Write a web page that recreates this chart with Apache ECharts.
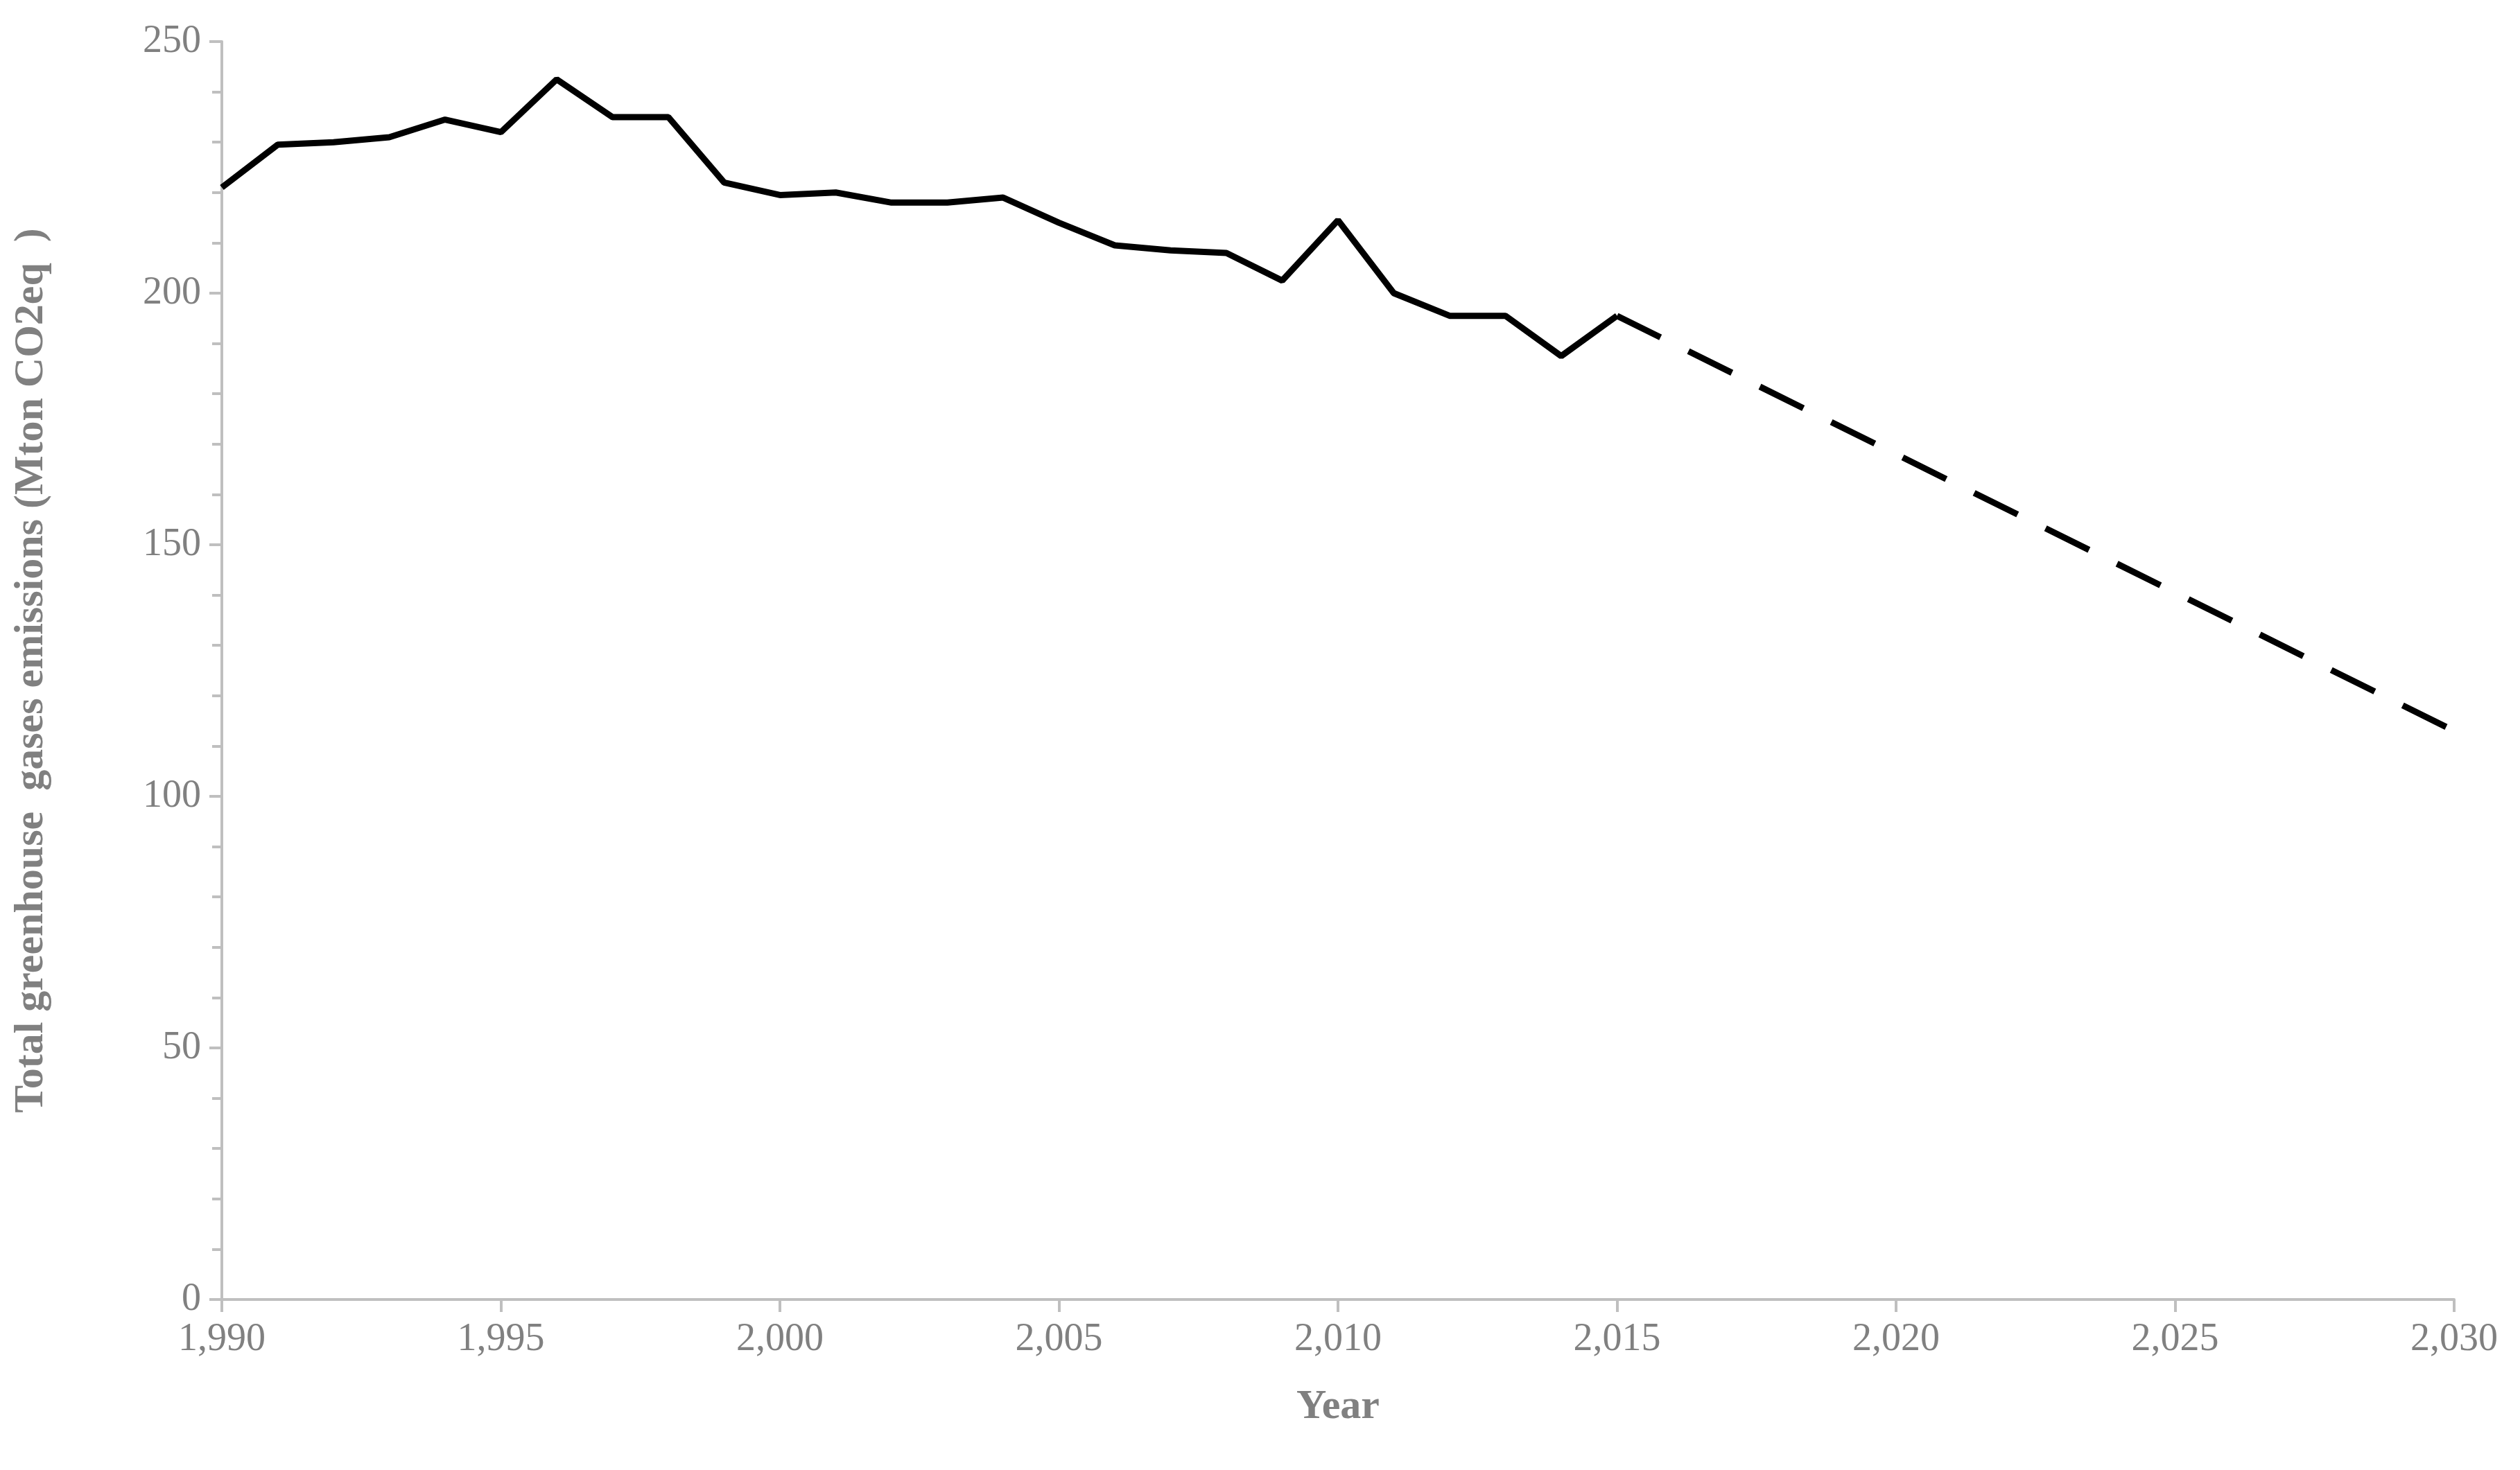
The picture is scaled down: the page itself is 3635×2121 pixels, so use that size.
<!DOCTYPE html><html><head><meta charset="utf-8"><script src="https://cdn.jsdelivr.net/npm/echarts@6/dist/echarts.min.js"></script>
<style>html,body{margin:0;padding:0;background:#fff}#c{width:3635px;height:2121px}</style></head><body><div id="c"></div><script>
const years=[1990,1991,1992,1993,1994,1995,1996,1997,1998,1999,2000,2001,2002,2003,2004,2005,2006,2007,2008,2009,2010,2011,2012,2013,2014,2015];
const emissions=[221,229.5,230,231,234.5,232,242.5,235,235,222,219.5,220,218,218,219,214,209.5,208.5,208,202.5,214.5,200,195.5,195.5,187.5,195.5];
const projYears=[2015,2030];
const projValues=[195.5,113];
const font='"Liberation Serif","Times New Roman",serif';
const ch=echarts.init(document.getElementById('c'));
ch.setOption({animation:false,
grid:{left:320,right:95,top:60,bottom:246},
xAxis:{type:'value',min:1990,max:2030,interval:5,name:'Year',nameLocation:'middle',nameGap:125,
nameTextStyle:{fontFamily:font,fontWeight:'bold',fontSize:60,color:'#808080'},
axisLine:{lineStyle:{color:'#bfbfbf',width:4}},axisTick:{show:true,length:18,lineStyle:{color:'#bfbfbf',width:4}},
axisLabel:{fontFamily:font,fontSize:56,color:'#808080',margin:30},splitLine:{show:false}},
yAxis:{type:'value',min:0,max:250,interval:50,name:'Total greenhouse  gases emissions (Mton CO2eq  )',nameLocation:'middle',nameGap:245,
nameTextStyle:{fontFamily:font,fontWeight:'bold',fontSize:60,color:'#808080'},
axisLine:{show:true,lineStyle:{color:'#bfbfbf',width:4}},axisTick:{show:true,length:18,lineStyle:{color:'#bfbfbf',width:4}},
minorTick:{show:true,splitNumber:5,length:14,lineStyle:{color:'#bfbfbf',width:4}},
axisLabel:{fontFamily:font,fontSize:56,color:'#808080',margin:30},splitLine:{show:false}},
series:[
{type:'line',data:years.map((y,i)=>[y,emissions[i]]),showSymbol:false,lineStyle:{color:'#000',width:9},z:3},
{type:'line',data:projYears.map((y,i)=>[y,projValues[i]]),showSymbol:false,lineStyle:{color:'#000',width:9,type:[70,45]},z:2}
]});
</script></body></html>
